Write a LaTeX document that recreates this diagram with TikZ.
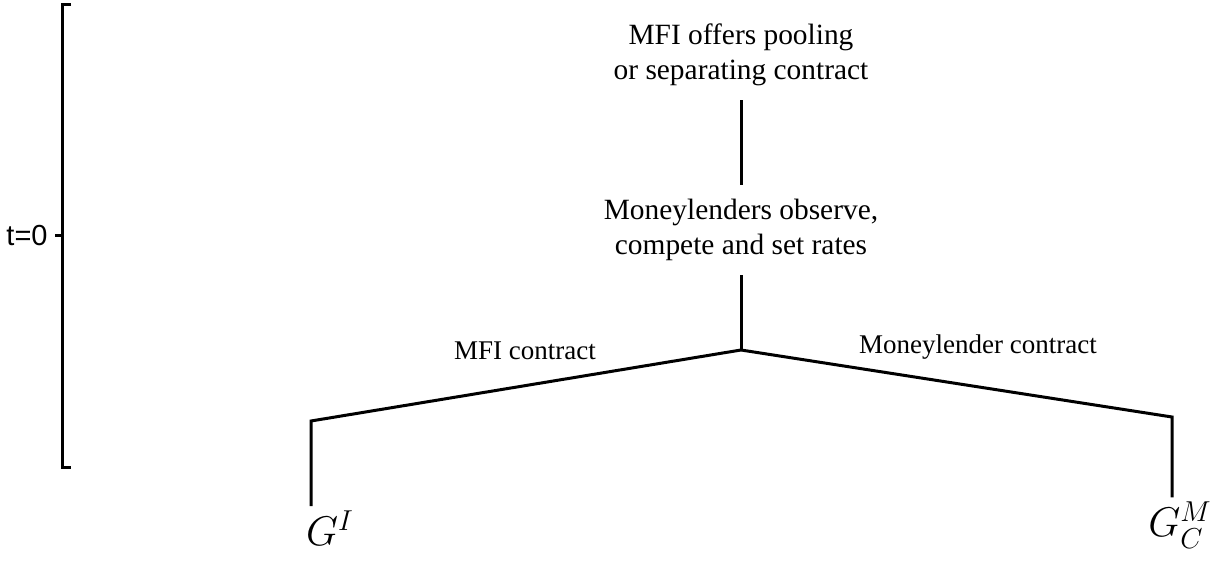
\documentclass[tikz,border=0pt]{standalone}
\usepackage{amsmath,amssymb}
\usepackage{fontspec}
\setmainfont{Liberation Serif}
\newfontfamily\arialfont{Liberation Sans}
\usetikzlibrary{calc}

\begin{document}
\begin{tikzpicture}[x=0.5pt,y=-0.5pt,
	stage/.style={align=center, inner sep=7pt, font=\fontsize{14.7}{17.5}\selectfont},
	branch/.style={font=\fontsize{13.5}{15}\selectfont},
	payoff/.style={inner sep=2pt, font=\fontsize{22}{26}\selectfont},
	tree/.style={line width=1.5pt}]
\useasboundingbox (0,0) rectangle (1211,561);
	\node[stage] (offer) at (741,55) {MFI offers pooling\\or separating contract};
	\node[stage] (observe) at (741,230) {Moneylenders observe,\\compete and set rates};
	\coordinate (fork) at (741,350);
	\coordinate (left) at (311,421);
	\coordinate (right) at (1172,417);
	\node[payoff] (gi) at (330,528) {$G^{I}$};
	\node[payoff] (gcm) at (1180,525) {$G_{C}^{M}$};
	\node[branch] (mfi) at (525,351) {MFI contract};
	\node[branch] (ml) at (978,347) {Moneylender contract};
	\node[font=\arialfont\fontsize{14.5}{16}\selectfont, anchor=east, inner sep=0pt] (t0) at (48,236) {t=0};
	\coordinate (top) at (62,5);
	\coordinate (mark) at (62,236);
	\coordinate (bottom) at (62,467);
\draw[tree] (offer.south)--(observe.north);
\draw[tree] (observe.south)--(fork);
\draw[tree] (fork)--(left)--(left |- gi.north);
\draw[tree] (fork)--(right)--(right |- gcm.north);
% time bracket
\draw[tree] ([xshift=4.5pt]top)--(top)--(bottom)--([xshift=4.5pt]bottom);
\draw[tree] ([xshift=3.5pt]t0.east)--(mark);
\end{tikzpicture}
\end{document}
